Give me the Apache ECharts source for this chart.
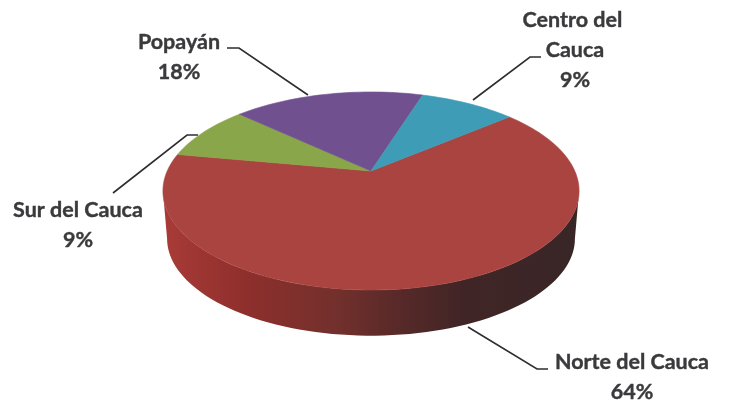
<!DOCTYPE html>
<html>
<head>
<meta charset="utf-8">
<style>html,body{margin:0;padding:0;background:#fff}#c{width:729px;height:401px}</style>
<script src="https://cdn.jsdelivr.net/npm/echarts@6/dist/echarts.min.js"></script>
</head>
<body>
<div id="c"></div>
<script>
var categories = ['Norte del Cauca', 'Sur del Cauca', 'Popayán', 'Centro del Cauca'];
var percents = [64, 9, 18, 9];
var colors = ['#AA4441', '#8AA64A', '#71508F', '#3F9CB6'];

// Tilted-disc projection (styling/geometry of the 3D pie, not data)
var PIE = { cx: 371, cy: 171, A: 203.8, b: 95, k: 0.202, depth: 48, rimScale: 0.98, startDeg: 320 };
// Label layout: text centre and leader-line path
var LAYOUT = [
  { x: 632, y: 377, w: 220, leader: [[548, 369], [537, 369], [468, 327]] },
  { x: 78, y: 225, w: 200, leader: [[198, 135], [187, 135], [113, 193]] },
  { x: 179, y: 57, w: 140, leader: [[227, 48], [239, 48], [308, 95]] },
  { x: 575, y: 50, w: 125, leader: [[541, 57], [530, 57], [473, 100]] }
];

function project(deg) {
  var t = deg * Math.PI / 180, u = Math.cos(t), v = Math.sin(t), d = 1 - PIE.k * v;
  return [PIE.cx + PIE.A * u / d, PIE.cy + PIE.b * v / d];
}
function arc(a0, a1) {
  var pts = [], n = Math.max(2, Math.ceil(Math.abs(a1 - a0) / 2));
  for (var i = 0; i <= n; i++) pts.push(project(a0 + (a1 - a0) * i / n));
  return pts;
}
function sideWall() {
  var a = Math.asin(PIE.k) * 180 / Math.PI;
  var top = arc(a, 180 - a);
  var low = arc(180 - a, a).map(function (p) {
    return [PIE.cx + (p[0] - PIE.cx) * PIE.rimScale, PIE.cy + PIE.depth + (p[1] - PIE.cy) * PIE.rimScale];
  });
  return top.concat(low);
}
var total = percents.reduce(function (s, v) { return s + v; }, 0);

function renderItem(params, api) {
  var idx = params.dataIndex, start = PIE.startDeg;
  for (var i = 0; i < idx; i++) start += percents[i] / total * 360;
  var end = start + api.value(0) / total * 360;
  var children = [];
  if (idx === 0) {
    children.push({
      type: 'polygon', shape: { points: sideWall() },
      style: { fill: { type: 'linear', x: 0, y: 0, x2: 1, y2: 0, colorStops: [
        { offset: 0, color: '#A93B38' }, { offset: 0.2, color: '#8E2F2C' },
        { offset: 0.42, color: '#72302C' }, { offset: 0.55, color: '#5A2A29' },
        { offset: 0.72, color: '#412526' }, { offset: 1, color: '#382627' }
      ] } }
    });
  }
  children.push({
    type: 'polygon',
    shape: { points: [[PIE.cx, PIE.cy]].concat(arc(start, end)) },
    style: { fill: colors[idx], stroke: colors[idx], lineWidth: 0.6 }
  });
  return { type: 'group', children: children };
}
function renderLabels(params, api) {
  var idx = params.dataIndex, L = LAYOUT[idx];
  return { type: 'group', children: [
    { type: 'polyline', shape: { points: L.leader },
      style: { fill: null, stroke: '#2E2E2E', lineWidth: 1.6 } },
    { type: 'text', x: L.x, y: L.y,
      style: { text: categories[idx] + '\n' + api.value(0) + '%', width: L.w, overflow: 'break',
        align: 'center', verticalAlign: 'middle', lineHeight: 30,
        font: 'bold 21.5px Lato, "Open Sans", sans-serif', fill: '#3A3A3C',
        stroke: '#3A3A3C', lineWidth: 0.4 } }
  ] };
}
var seriesData = percents.map(function (v) { return [v]; });
var chart = echarts.init(document.getElementById('c'), null, { renderer: 'canvas' });
chart.setOption({
  backgroundColor: '#fff',
  animation: false,
  series: [
    { type: 'custom', coordinateSystem: 'none', renderItem: renderItem, data: seriesData, silent: true, z: 1 },
    { type: 'custom', coordinateSystem: 'none', renderItem: renderLabels, data: seriesData, silent: true, z: 2 }
  ]
});
</script>
</body>
</html>
